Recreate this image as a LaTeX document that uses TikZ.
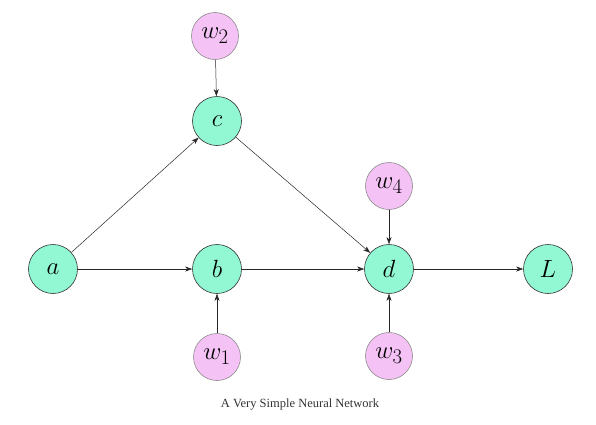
\documentclass[tikz,border=0pt]{standalone}
\usepackage{fontspec}
\newfontfamily\capfont{Liberation Serif}
\usetikzlibrary{arrows.meta}
\definecolor{nodegreen}{RGB}{146,247,211}
\definecolor{nodepink}{RGB}{245,194,245}
\tikzset{
  vnode/.style={circle,draw=black!80,line width=0.6pt,fill=nodegreen,minimum size=49pt,inner sep=0pt,font=\fontsize{30}{32}\selectfont},
  wnode/.style={circle,draw=black!45,line width=0.6pt,fill=nodepink,minimum size=47pt,inner sep=0pt,font=\fontsize{28}{30}\selectfont},
  conn/.style={draw=black!85,line width=0.5pt,-{Stealth[length=7pt,width=5pt,inset=2pt]}}
}
\begin{document}
\begin{tikzpicture}[x=1pt,y=-1pt]
\useasboundingbox (0,0) rectangle (596,424);
\node[vnode] (a) at (53,269) {$a$};
\node[vnode] (b) at (217,269) {$b$};
\node[vnode] (c) at (217,121) {$c$};
\node[vnode] (d) at (389,269) {$d$};
\node[vnode] (L) at (548,269) {$L$};
\node[wnode] (w2) at (215,36) {$w_2$};
\node[wnode] (w4) at (389,186) {$w_4$};
\node[wnode] (w1) at (217,357) {$w_1$};
\node[wnode] (w3) at (389,356) {$w_3$};
\node[font=\capfont\fontsize{12.5}{14}\selectfont,text=black!80] (cap) at (300,405) {A Very Simple Neural Network};
\draw[conn] (a) -- (c);
\draw[conn] (a) -- (b);
\draw[conn] (b) -- (d);
\draw[conn] (c) -- (d);
\draw[conn] (w2) -- (c);
\draw[conn] (w4) -- (d);
\draw[conn] (w3) -- (d);
\draw[conn] (w1) -- (b);
\draw[conn] (d) -- (L);
\end{tikzpicture}
\end{document}
